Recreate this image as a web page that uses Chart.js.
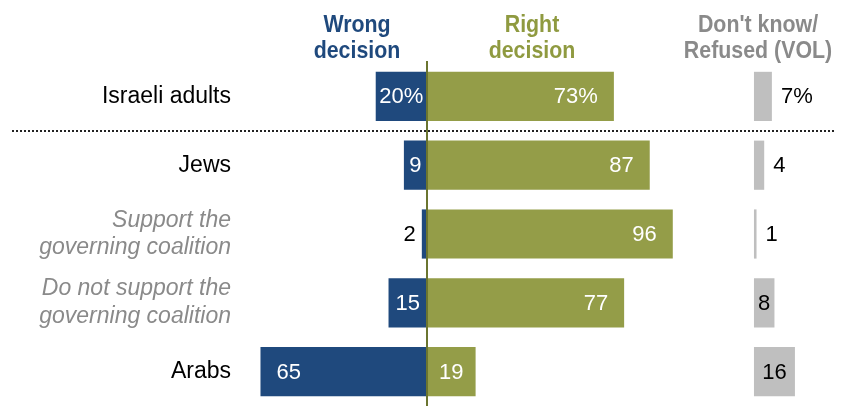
<!DOCTYPE html>
<html>
<head>
<meta charset="utf-8">
<script src="https://cdn.jsdelivr.net/npm/chart.js@4.4.1/dist/chart.umd.min.js"></script>
<style>
  html, body { margin: 0; padding: 0; background: #ffffff; }
  #wrap { position: relative; width: 842px; height: 406px; }
</style>
</head>
<body>
<div id="wrap"><canvas id="c" width="842" height="406"></canvas></div>
<script>
// ---- Data ----
const categories = [
  ["Israeli adults"],
  ["Jews"],
  ["Support the", "governing coalition"],
  ["Do not support the", "governing coalition"],
  ["Arabs"]
];
const isSubgroup = [false, false, true, true, false];
const wrongDecision = [20, 9, 2, 15, 65];
const rightDecision = [73, 87, 96, 77, 19];
const dontKnow = [7, 4, 1, 8, 16];
const valueLabels = ["20%", "73%", "7%"]; // first row shows percent signs
const headerWrong = ["Wrong", "decision"];
const headerRight = ["Right", "decision"];
const headerDK = ["Don't know/", "Refused (VOL)"];

// ---- Styling / layout constants ----
const BLUE = "#1f497d";
const GREEN = "#949d48";
const GREY_BAR = "#bfbfbf";
const DK_OFFSET = 127.7;   // where the Don't know column starts on the value axis
const NUM_FONT = "22px 'Liberation Sans', Arial, sans-serif";
const HEAD_FONT = "bold 24px 'Liberation Sans', Arial, sans-serif";
const HEAD_SQUEEZE = 0.89;

const wrongData = wrongDecision.map(v => [-v, 0]);
const rightData = rightDecision.map(v => [0, v]);
const dkData = dontKnow.map(v => [DK_OFFSET, DK_OFFSET + v]);

function labelText(dsIndex, i, v) {
  if (i === 0) return valueLabels[dsIndex];
  return String(v);
}

const overlayPlugin = {
  id: 'overlay',
  afterDatasetsDraw(chart) {
    const ctx = chart.ctx;
    const xs = chart.scales.x, ys = chart.scales.y;
    ctx.save();
    // data labels
    ctx.font = NUM_FONT;
    ctx.textBaseline = 'middle';
    const sources = [wrongDecision, rightDecision, dontKnow];
    chart.data.datasets.forEach((ds, d) => {
      const meta = chart.getDatasetMeta(d);
      meta.data.forEach((el, i) => {
        const p = el.getProps(['x', 'base', 'y'], true);
        const left = Math.min(p.x, p.base), right = Math.max(p.x, p.base);
        const w = right - left;
        const txt = labelText(d, i, sources[d][i]);
        const tw = ctx.measureText(txt).width;
        const y = p.y + 1;
        if (d === 0) {
          if (tw + 32 <= w) { ctx.fillStyle = '#fff'; ctx.textAlign = 'left'; ctx.fillText(txt, left + 16, y); }
          else if (tw + 2 <= w) { ctx.fillStyle = '#fff'; ctx.textAlign = 'center'; ctx.fillText(txt, (left + right) / 2, y); }
          else { ctx.fillStyle = '#000'; ctx.textAlign = 'right'; ctx.fillText(txt, left - 6, y); }
        } else if (d === 1) {
          if (tw + 32 <= w) { ctx.fillStyle = '#fff'; ctx.textAlign = 'right'; ctx.fillText(txt, right - 16, y); }
          else if (tw + 2 <= w) { ctx.fillStyle = '#fff'; ctx.textAlign = 'center'; ctx.fillText(txt, (left + right) / 2, y); }
          else { ctx.fillStyle = '#000'; ctx.textAlign = 'left'; ctx.fillText(txt, right + 6, y); }
        } else {
          ctx.fillStyle = '#000';
          if (tw + 4 <= w) { ctx.textAlign = 'center'; ctx.fillText(txt, (left + right) / 2, y); }
          else { ctx.textAlign = 'left'; ctx.fillText(txt, right + 9, y); }
        }
      });
    });
    // center line
    const x0 = Math.round(xs.getPixelForValue(0));
    ctx.strokeStyle = '#6b7530';
    ctx.lineWidth = 2;
    ctx.beginPath();
    ctx.moveTo(x0, 61);
    ctx.lineTo(x0, chart.height);
    ctx.stroke();
    // dotted separator between total and subgroups
    const ySep = Math.round((ys.getPixelForValue(0) + ys.getPixelForValue(1)) / 2) - 1;
    ctx.fillStyle = '#222';
    for (let x = 12; x < 834; x += 4) ctx.fillRect(x, ySep, 2, 2);
    // headers (slightly condensed bold text)
    ctx.font = HEAD_FONT;
    ctx.textAlign = 'center';
    ctx.textBaseline = 'alphabetic';
    const heads = [[headerWrong, BLUE, 357], [headerRight, '#8f9a40', 532], [headerDK, '#8a8a8a', 758]];
    heads.forEach(([lines, col, cx]) => {
      ctx.fillStyle = col;
      [[lines[0], 32], [lines[1], 58]].forEach(([t, by]) => {
        ctx.save();
        ctx.translate(cx, by);
        ctx.scale(HEAD_SQUEEZE, 1);
        ctx.fillText(t, 0, 0);
        ctx.restore();
      });
    });
    ctx.restore();
  }
};

new Chart(document.getElementById('c'), {
  type: 'bar',
  data: {
    labels: categories,
    datasets: [
      { label: 'Wrong decision', data: wrongData, backgroundColor: BLUE },
      { label: 'Right decision', data: rightData, backgroundColor: GREEN },
      { label: "Don't know/Refused (VOL)", data: dkData, backgroundColor: GREY_BAR }
    ]
  },
  options: {
    indexAxis: 'y',
    responsive: false,
    animation: false,
    events: [],
    datasets: { bar: { grouped: false, barPercentage: 0.715, categoryPercentage: 1.0, borderWidth: 0 } },
    layout: { padding: { top: 62, bottom: -4, left: 0, right: 13 } },
    plugins: { legend: { display: false }, tooltip: { enabled: false }, title: { display: false } },
    scales: {
      x: {
        type: 'linear', min: -73, max: 157, display: false,
        grid: { display: false }
      },
      y: {
        type: 'category',
        offset: true,
        border: { display: false },
        grid: { display: false, drawTicks: false },
        afterFit(scale) {
          scale.width = 240;
          scale.paddingTop = 0;
          scale.paddingBottom = 0;
        },
        ticks: {
          padding: 9,
          autoSkip: false,
          color: (ctx) => isSubgroup[ctx.index] ? '#8a8a8a' : '#000000',
          font: (ctx) => ({
            family: "'Liberation Sans', Arial, sans-serif",
            size: 23,
            style: isSubgroup[ctx.index] ? 'italic' : 'normal',
            lineHeight: 1.2
          })
        }
      }
    }
  },
  plugins: [overlayPlugin]
});
</script>
</body>
</html>
